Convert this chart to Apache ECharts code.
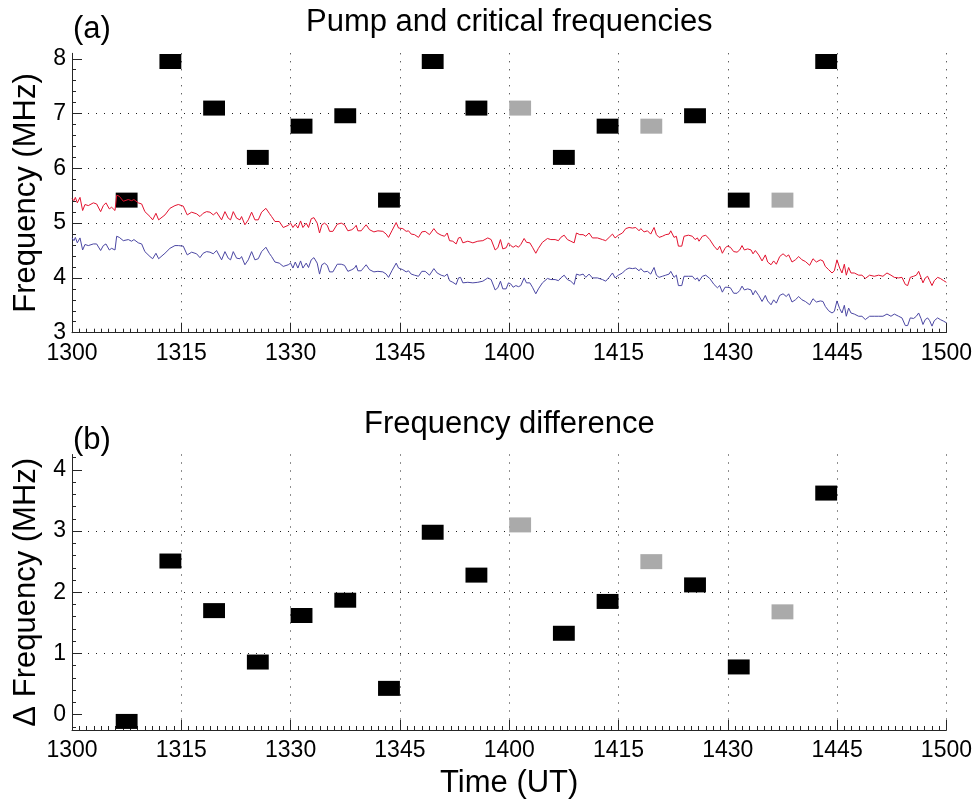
<!DOCTYPE html>
<html><head><meta charset="utf-8">
<script src="https://cdn.jsdelivr.net/npm/echarts@6/dist/echarts.min.js"></script>
<style>html,body{margin:0;padding:0;background:#fff}#c{width:975px;height:800px}</style>
</head><body><div id="c"></div>
<script>
// ---------------- data ----------------
const timeTickLabels = ['1300','1315','1330','1345','1400','1415','1430','1445','1500']; // every 15 min
const titleTop = 'Pump and critical frequencies';
const titleBottom = 'Frequency difference';
const panelTop = '(a)';
const panelBottom = '(b)';
const yNameTop = 'Frequency (MHz)';
const yNameBottom = '\u0394 Frequency (MHz)';
const xName = 'Time (UT)';

// pump periods (minutes after 13:00 UT)
const pumpStart = [6,12,18,24,30,36,42,48,54,60,66,72,78,84,90,96,102];
const pumpEnd   = [9,15,21,27,33,39,45,51,57,63,69,75,81,87,93,99,105];
const pumpFreq  = [5.42,7.95,7.10,6.20,6.77,6.96,5.42,7.95,7.10,7.10,6.20,6.77,6.77,6.96,5.42,5.42,7.95];
const freqDiff  = [-0.11,2.51,1.70,0.86,1.62,1.87,0.43,2.98,2.28,3.10,1.33,1.85,2.50,2.12,0.78,1.68,3.62];
const pumpGray  = [0,0,0,0,0,0,0,0,0,1,0,0,1,0,0,1,0];

// critical frequency traces (minutes after 13:00 UT)
const lineTimes = [
 0.0,0.27,0.46,0.73,1.1,1.46,1.78,2.24,2.93,3.38,3.93,4.3,4.66,5.12,5.44,5.9,6.13,6.49,7.04,7.73,8.18,8.5,9.1,9.56,10.0,10.7,11.07,11.52,11.89,12.16,12.76,13.44,14.13,14.59,15.27,15.64,15.82,16.42,17.1,17.56,18.0,18.47,18.93,19.39,19.84,20.07,20.53,20.99,21.44,21.76,22.13,22.59,23.05,23.27,23.73,24.19,24.65,25.1,25.56,26.02,26.61,27.07,27.39,27.85,28.44,28.99,29.68,
 30.0,30.32,30.64,31.0,31.37,31.69,32.14,32.46,32.83,33.2,33.65,33.97,34.29,34.66,35.03,35.35,35.8,36.4,36.95,37.4,37.86,38.41,38.77,39.0,39.23,39.69,40.05,40.37,40.83,41.43,41.98,42.66,43.12,43.44,43.9,44.49,44.81,45.4,45.86,46.18,46.55,47.0,47.55,48.01,48.47,49.06,49.66,50.11,50.66,51.12,51.49,51.81,52.26,52.72,53.04,53.32,53.64,54.32,55.01,55.69,56.38,57.06,57.52,58.07,58.44,58.8,59.12,59.58,59.9,
 60.22,60.54,60.91,61.27,61.59,62.05,62.37,62.83,63.19,63.65,64.01,64.56,65.25,65.71,66.3,66.76,67.08,67.54,67.99,68.45,68.91,69.23,69.68,70.14,70.51,70.96,71.42,72.11,72.79,73.25,73.71,74.17,74.53,74.99,75.54,75.99,76.45,76.91,77.37,77.82,78.05,78.51,78.97,79.42,79.88,80.2,80.57,81.02,81.48,81.94,82.17,82.62,82.94,83.22,83.68,83.99,84.59,85.14,85.51,85.83,86.05,86.51,86.97,87.52,88.11,88.57,88.89,89.25,89.62,
 89.9,90.35,90.81,91.27,91.63,91.95,92.27,92.73,93.19,93.46,93.78,94.24,94.7,95.15,95.47,95.93,96.29,96.66,97.12,97.58,98.03,98.35,98.81,99.27,99.73,100.18,100.64,101.23,101.69,102.15,102.7,103.06,103.38,103.84,104.3,104.62,104.98,105.35,105.67,105.99,106.26,106.58,106.9,107.36,107.96,108.41,108.87,109.46,110.1,110.7,111.29,111.84,112.39,112.85,113.44,113.9,114.36,114.68,115.04,115.5,115.87,116.19,116.51,116.78,117.1,117.42,117.7,118.02,118.34,118.79,119.16,119.62,120.0
];
const fxF2 = [
 5.45,5.41,5.47,5.37,5.47,5.23,5.34,5.32,5.37,5.35,5.21,5.32,5.37,5.26,5.29,5.23,5.51,5.49,5.40,5.43,5.41,5.43,5.37,5.35,5.21,5.12,5.06,5.18,5.06,5.04,5.15,5.27,5.32,5.34,5.31,5.20,5.15,5.20,5.17,5.12,5.18,5.21,5.20,5.15,5.20,5.18,5.06,5.21,5.09,5.06,5.21,5.09,5.06,5.12,4.97,5.06,5.20,5.06,5.06,5.20,5.27,5.18,5.12,5.03,5.03,4.92,4.96,
 5.00,4.92,4.98,4.91,5.04,4.92,5.00,4.92,5.08,5.10,5.00,4.82,4.97,5.00,4.96,4.85,4.85,4.98,5.00,4.97,4.86,4.88,4.92,4.96,4.86,4.86,4.92,4.97,4.88,4.84,4.86,4.85,4.80,4.74,4.86,5.01,4.91,4.90,4.85,4.86,4.80,4.79,4.74,4.84,4.85,4.79,4.90,4.82,4.78,4.76,4.82,4.68,4.67,4.62,4.73,4.74,4.64,4.67,4.64,4.67,4.68,4.73,4.70,4.51,4.55,4.70,4.53,4.55,4.64,
 4.59,4.56,4.59,4.56,4.61,4.72,4.65,4.64,4.56,4.45,4.54,4.65,4.72,4.70,4.70,4.68,4.74,4.78,4.70,4.67,4.64,4.82,4.79,4.79,4.76,4.82,4.73,4.73,4.70,4.68,4.74,4.80,4.73,4.78,4.82,4.90,4.92,4.91,4.92,4.86,4.90,4.84,4.86,4.80,4.92,4.79,4.74,4.76,4.79,4.80,4.86,4.74,4.76,4.58,4.58,4.76,4.78,4.76,4.70,4.73,4.67,4.76,4.78,4.70,4.58,4.51,4.58,4.45,4.54,
 4.58,4.56,4.48,4.47,4.51,4.59,4.51,4.53,4.51,4.44,4.50,4.42,4.31,4.42,4.29,4.24,4.31,4.25,4.39,4.44,4.39,4.42,4.29,4.33,4.39,4.33,4.30,4.23,4.35,4.29,4.33,4.31,4.21,4.15,4.09,4.13,4.33,4.18,4.09,4.25,4.05,4.19,4.09,4.09,4.05,4.05,3.99,4.05,4.03,4.05,4.03,4.09,4.05,4.01,4.00,4.01,3.88,3.86,4.01,4.03,4.05,4.12,4.01,3.91,4.00,4.03,3.95,3.86,3.95,4.01,3.99,3.95,3.92
];
const foF2 = [
 4.73,4.68,4.74,4.64,4.73,4.51,4.61,4.59,4.62,4.62,4.50,4.59,4.62,4.51,4.54,4.51,4.76,4.74,4.68,4.70,4.67,4.70,4.64,4.62,4.48,4.39,4.35,4.45,4.35,4.33,4.45,4.54,4.59,4.59,4.58,4.47,4.42,4.47,4.44,4.37,4.45,4.48,4.47,4.44,4.50,4.47,4.33,4.48,4.36,4.33,4.48,4.36,4.35,4.39,4.24,4.33,4.48,4.33,4.35,4.48,4.56,4.45,4.39,4.29,4.27,4.21,4.24,
 4.27,4.18,4.29,4.18,4.31,4.18,4.27,4.19,4.33,4.37,4.27,4.07,4.24,4.27,4.23,4.11,4.11,4.25,4.25,4.23,4.12,4.15,4.18,4.23,4.13,4.13,4.19,4.24,4.15,4.11,4.12,4.11,4.07,4.01,4.13,4.27,4.18,4.15,4.11,4.13,4.07,4.05,4.03,4.12,4.12,4.05,4.17,4.09,4.05,4.03,4.07,3.95,3.92,3.88,4.00,4.01,3.91,3.92,3.91,3.92,3.94,4.00,3.97,3.78,3.82,3.94,3.80,3.80,3.91,
 3.89,3.83,3.86,3.84,3.86,4.00,3.91,3.91,3.83,3.71,3.80,3.91,3.99,3.97,3.97,3.95,4.00,4.05,3.97,3.94,3.88,4.07,4.05,4.07,4.01,4.07,4.00,4.00,3.97,3.94,4.01,4.09,4.00,4.05,4.09,4.15,4.18,4.17,4.18,4.13,4.17,4.11,4.12,4.07,4.19,4.05,4.01,4.03,4.05,4.07,4.12,4.01,4.05,3.86,3.86,4.03,4.03,4.03,3.97,4.00,3.94,4.03,4.05,3.99,3.88,3.82,3.86,3.74,3.83,
 3.83,3.82,3.72,3.72,3.77,3.85,3.78,3.80,3.78,3.69,3.77,3.68,3.57,3.68,3.58,3.51,3.60,3.54,3.68,3.71,3.66,3.71,3.56,3.60,3.66,3.60,3.57,3.51,3.62,3.56,3.58,3.57,3.48,3.40,3.36,3.39,3.58,3.44,3.36,3.50,3.30,3.45,3.36,3.34,3.30,3.30,3.24,3.30,3.30,3.30,3.30,3.34,3.30,3.34,3.30,3.27,3.13,3.13,3.27,3.26,3.30,3.36,3.26,3.15,3.24,3.27,3.22,3.12,3.22,3.27,3.24,3.21,3.18
];

// ---------------- chart ----------------
const FONT = "'Liberation Sans', Arial, Helvetica, sans-serif";
const AXC = '#262626';
const GRIDC = '#1e1e1e';
const chart = echarts.init(document.getElementById('c'), null, {renderer: 'canvas'});

const topMajor = [3,4,5,6,7,8];
const botMajor = [0,1,2,3,4];
const topMinor = []; for (let k = 1; k <= 25; k++) topMinor.push(+(3 + 0.2 * k).toFixed(2));
const botMinor = []; for (let k = -1; k <= 21; k++) botMinor.push(+(0.2 * k).toFixed(2));
const xMinor = []; for (let k = 1; k < 120; k++) if (k % 15) xMinor.push(k);

function xAxisCfg(gi, withName) {
  return {
    type: 'value', gridIndex: gi, min: 0, max: 120, interval: 15, position: 'bottom',
    axisLine: {show: true, onZero: false, lineStyle: {color: AXC, width: 1}},
    axisTick: {show: true, inside: true, length: 10, lineStyle: {color: AXC, width: 1}},
    minorTick: {show: false},
    axisLabel: {margin: 9, color: '#000', fontSize: 23, fontFamily: FONT,
      formatter: v => timeTickLabels[Math.round(v / 15)]},
    splitLine: {show: true, showMinLine: false, lineStyle: {color: GRIDC, type: [1, 7], width: 1}},
    name: withName ? xName : '', nameLocation: 'middle', nameGap: 38,
    nameTextStyle: {color: '#000', fontSize: 31, fontFamily: FONT}
  };
}
function xMinorCfg(gi) {
  return {
    type: 'value', gridIndex: gi, min: 0, max: 120, position: 'bottom', offset: 0,
    axisLine: {show: false, onZero: false}, axisLabel: {show: false}, splitLine: {show: false},
    axisTick: {show: true, inside: true, length: 4, customValues: xMinor, lineStyle: {color: AXC, width: 1}}
  };
}
function yMain(gi, min, max, major, name) {
  return {
    type: 'value', gridIndex: gi, min: min, max: max, position: 'left',
    axisLine: {show: true, onZero: false, lineStyle: {color: AXC, width: 1}},
    axisTick: {show: true, inside: true, length: 10, customValues: major, lineStyle: {color: AXC, width: 1}},
    axisLabel: {margin: 6, color: '#000', fontSize: 23, fontFamily: FONT, customValues: major,
      formatter: v => String(v)},
    splitLine: {show: true, showMinLine: false, showMaxLine: false, lineStyle: {color: GRIDC, type: [1, 7], width: 1}},
    name: name, nameLocation: 'middle', nameGap: 28,
    nameTextStyle: {color: '#000', fontSize: 31, fontFamily: FONT}
  };
}
function yMinor(gi, min, max, minor) {
  return {
    type: 'value', gridIndex: gi, min: min, max: max, position: 'left', offset: 0,
    axisLine: {show: false, onZero: false}, axisLabel: {show: false}, splitLine: {show: false},
    axisTick: {show: true, inside: true, length: 4, customValues: minor, lineStyle: {color: AXC, width: 1}}
  };
}
function rectSeries(xi, yi, vals, gray) {
  const data = [];
  pumpStart.forEach((s, i) => { if (pumpGray[i] === gray) data.push([s, pumpEnd[i], vals[i]]); });
  return {
    type: 'custom', xAxisIndex: xi, yAxisIndex: yi, data: data, encode: {x: [0, 1], y: 2},
    clip: false, z: 2, silent: true,
    renderItem: function (params, api) {
      const a = api.coord([api.value(0), api.value(2)]);
      const b = api.coord([api.value(1), api.value(2)]);
      const h = 15;
      return {type: 'rect', shape: {x: a[0], y: a[1] - h / 2, width: b[0] - a[0], height: h},
        style: {fill: gray ? '#aaaaaa' : '#000000'}};
    }
  };
}
function lineSeries(vals, color) {
  const n = Math.min(lineTimes.length, vals.length);
  const data = [];
  for (let i = 0; i < n; i++) data.push([lineTimes[i], vals[i]]);
  return {type: 'line', xAxisIndex: 0, yAxisIndex: 0, data: data, symbol: 'none', showSymbol: false,
    lineStyle: {color: color, width: 1}, z: 3, silent: true};
}
function txt(x, y, text, align) {
  return {type: 'text', x: x, y: y, silent: true,
    style: {text: text, fill: '#000', fontSize: 31, fontFamily: FONT, align: align, verticalAlign: 'middle'}};
}

chart.setOption({
  animation: false,
  backgroundColor: '#fff',
  grid: [
    {left: 72, right: 28.3, top: 53.3, height: 279.4, containLabel: false},
    {left: 72, right: 28.3, top: 454.5, height: 279.4, containLabel: false}
  ],
  xAxis: [xAxisCfg(0, false), xAxisCfg(1, true), xMinorCfg(0), xMinorCfg(1)],
  yAxis: [
    yMain(0, 3, 8.1, topMajor, yNameTop),
    yMinor(0, 3, 8.1, topMinor),
    yMain(1, -0.25, 4.25, botMajor, yNameBottom),
    yMinor(1, -0.25, 4.25, botMinor)
  ],
  series: [
    rectSeries(0, 0, pumpFreq, 0),
    rectSeries(0, 0, pumpFreq, 1),
    lineSeries(fxF2, '#e3122f'),
    lineSeries(foF2, '#4b47a3'),
    rectSeries(1, 2, freqDiff, 0),
    rectSeries(1, 2, freqDiff, 1)
  ],
  graphic: [
    txt(73, 29, panelTop, 'left'),
    txt(509.3, 22, titleTop, 'center'),
    txt(73, 440, panelBottom, 'left'),
    txt(509.3, 424, titleBottom, 'center')
  ]
});
</script>
</body></html>
